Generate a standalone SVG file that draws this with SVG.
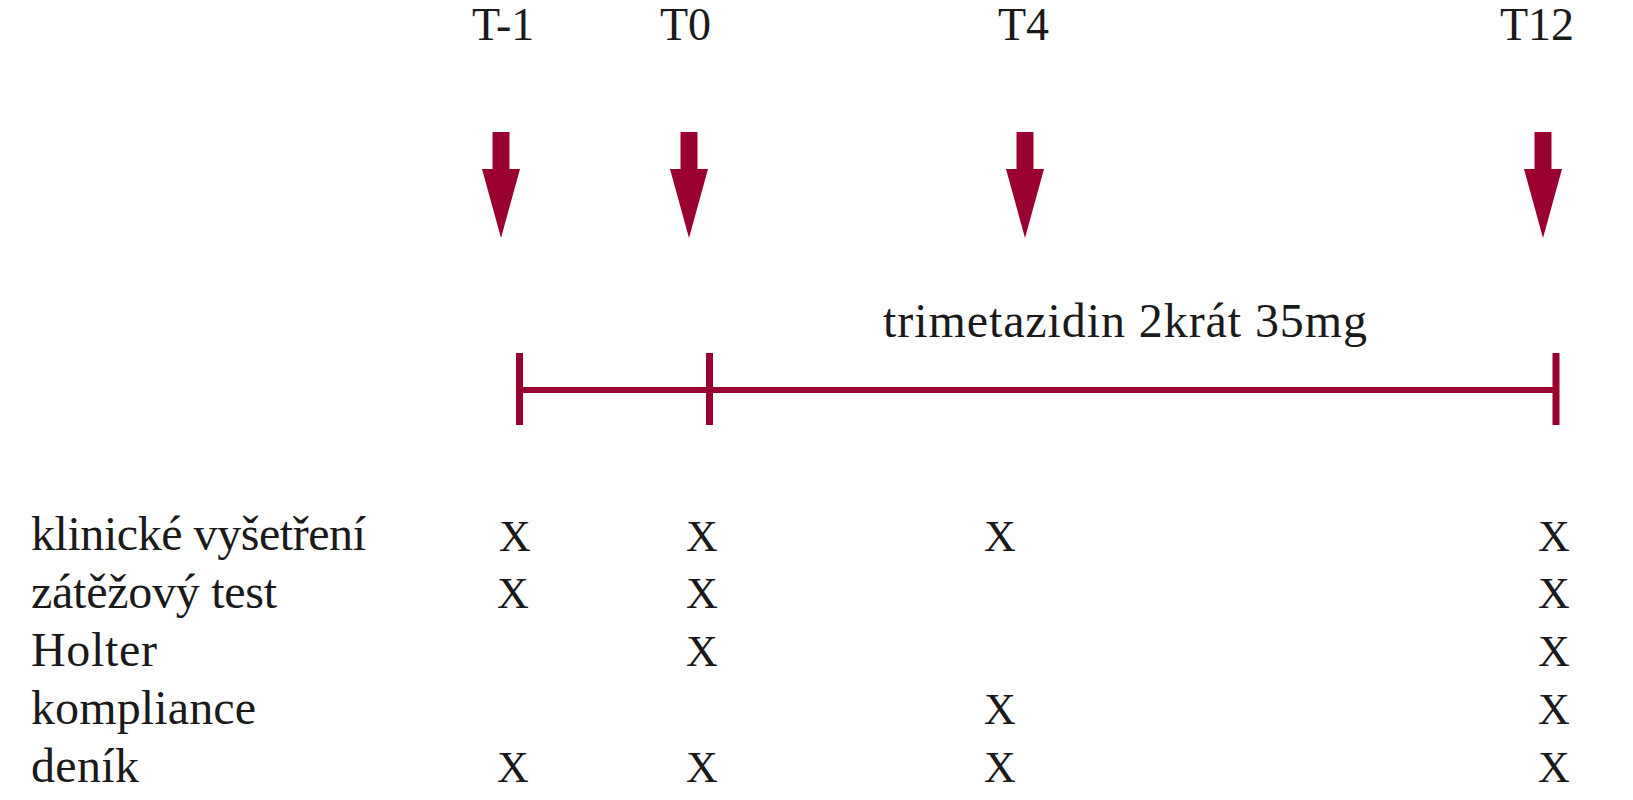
<svg xmlns="http://www.w3.org/2000/svg" xmlns:xlink="http://www.w3.org/1999/xlink" width="1633" height="800" viewBox="0 0 1633 800">
  <style>
    .hdr { font-family: "Liberation Serif", "Times New Roman", serif; font-size: 46px; fill: #1a1a1a; }
    .lbl { font-family: "Liberation Serif", "Times New Roman", serif; font-size: 48px; fill: #1a1a1a; }
    .x { font-family: "Liberation Serif", "Times New Roman", serif; font-size: 44px; fill: #1a1a1a; text-anchor: middle; }
    .arrow { fill: #99002f; }
    .line { stroke: #99002f; stroke-width: 6; fill: none; }
    .tick { stroke: #99002f; stroke-width: 7; fill: none; }
  </style>
  <defs>
    <polygon id="downArrow" points="-8.5,132 8.5,132 8.5,169 19,169 0,238 -19,169 -8.5,169"/>
  </defs>
  <rect width="1633" height="800" fill="#ffffff"/>

  <g id="headers">
    <text class="hdr" x="472" y="40">T-1</text>
    <text class="hdr" x="660" y="40">T0</text>
    <text class="hdr" x="998" y="40">T4</text>
    <text class="hdr" x="1500" y="40">T12</text>
  </g>

  <g id="connectors">
    <use xlink:href="#downArrow" href="#downArrow" class="arrow" transform="translate(501,0)"/>
    <use xlink:href="#downArrow" href="#downArrow" class="arrow" transform="translate(689,0)"/>
    <use xlink:href="#downArrow" href="#downArrow" class="arrow" transform="translate(1025,0)"/>
    <use xlink:href="#downArrow" href="#downArrow" class="arrow" transform="translate(1543,0)"/>
    <line class="line" x1="519.5" y1="390" x2="1556" y2="390"/>
    <line class="tick" x1="519.5" y1="353" x2="519.5" y2="425"/>
    <line class="tick" x1="709.5" y1="353" x2="709.5" y2="425"/>
    <line class="tick" x1="1556" y1="353" x2="1556" y2="425"/>
  </g>

  <g id="treatment">
    <text class="lbl" x="883" y="337" textLength="484">trimetazidin 2krát 35mg</text>
  </g>

  <g id="row-labels">
    <text class="lbl" x="31" y="550" textLength="335">klinické vyšetření</text>
    <text class="lbl" x="31" y="608" textLength="246">zátěžový test</text>
    <text class="lbl" x="31" y="666" textLength="126">Holter</text>
    <text class="lbl" x="31" y="724" textLength="225">kompliance</text>
    <text class="lbl" x="31" y="782" textLength="108">deník</text>
  </g>

  <g id="marks">
    <text class="x" x="515" y="551">X</text>
    <text class="x" x="702" y="551">X</text>
    <text class="x" x="1000" y="551">X</text>
    <text class="x" x="1554" y="551">X</text>

    <text class="x" x="513" y="608">X</text>
    <text class="x" x="702" y="608">X</text>
    <text class="x" x="1554" y="608">X</text>

    <text class="x" x="702" y="666">X</text>
    <text class="x" x="1554" y="666">X</text>

    <text class="x" x="1000" y="724">X</text>
    <text class="x" x="1554" y="724">X</text>

    <text class="x" x="513" y="782">X</text>
    <text class="x" x="702" y="782">X</text>
    <text class="x" x="1000" y="782">X</text>
    <text class="x" x="1554" y="782">X</text>
  </g>
</svg>
